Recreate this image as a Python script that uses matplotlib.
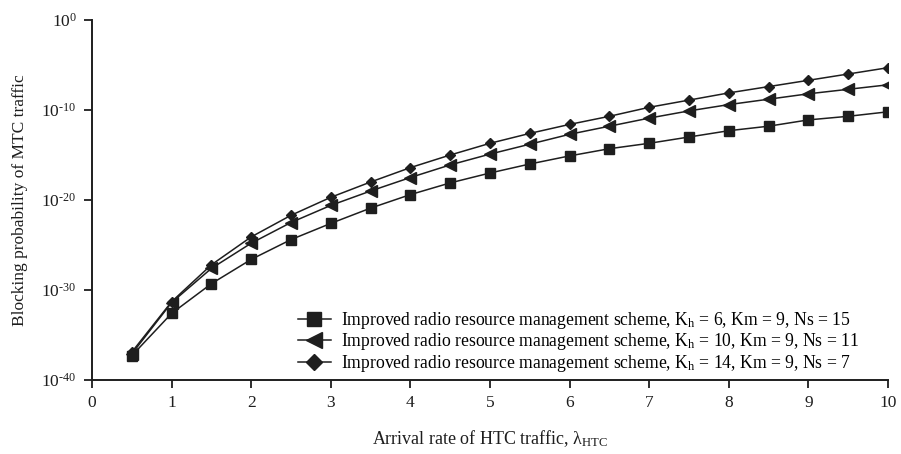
import numpy as np
import matplotlib
matplotlib.use('Agg')
import matplotlib.pyplot as plt
from matplotlib.ticker import FixedLocator, FuncFormatter

plt.rcParams['font.family'] = ['Liberation Serif', 'DejaVu Serif']
plt.rcParams['mathtext.fontset'] = 'custom'
plt.rcParams['mathtext.rm'] = 'Liberation Serif'
plt.rcParams['mathtext.it'] = 'Liberation Serif:italic'

# arrival rate of HTC traffic
lam = [0.5, 1, 1.5, 2, 2.5, 3, 3.5, 4, 4.5, 5, 5.5, 6, 6.5, 7, 7.5, 8, 8.5, 9, 9.5, 10]

# blocking probability as log10 values
exp_kh6 = [-37.3, -32.6, -29.3, -26.6, -24.4, -22.6, -20.9, -19.4, -18.1, -17.0,
           -16.0, -15.1, -14.3, -13.7, -13.0, -12.3, -11.8, -11.1, -10.7, -10.2]
exp_kh10 = [-37.1, -31.4, -27.6, -24.8, -22.5, -20.6, -19.0, -17.5, -16.1, -14.9,
            -13.8, -12.7, -11.8, -10.9, -10.1, -9.4, -8.8, -8.2, -7.7, -7.2]
exp_kh14 = [-36.9, -31.3, -27.2, -24.1, -21.7, -19.7, -18.0, -16.4, -15.0, -13.7,
            -12.6, -11.6, -10.7, -9.7, -8.9, -8.1, -7.4, -6.7, -6.0, -5.3]

labels = [
    'Improved radio resource management scheme, K$_\\mathregular{h}$ = 6, Km = 9, Ns = 15',
    'Improved radio resource management scheme, K$_\\mathregular{h}$ = 10, Km = 9, Ns = 11',
    'Improved radio resource management scheme, K$_\\mathregular{h}$ = 14, Km = 9, Ns = 7',
]
y_exps = [-40, -30, -20, -10, 0]
x_ticks = [0, 1, 2, 3, 4, 5, 6, 7, 8, 9, 10]

ink = '#1e1e1e'

fig = plt.figure(figsize=(9.01, 4.54), dpi=100)
ax = fig.add_axes([92 / 901, 1 - 380 / 454, (888 - 92) / 901, 360 / 454])

ax.plot(lam, np.power(10.0, exp_kh6), color=ink, lw=1.1, marker='s', ms=7, label=labels[0])
ax.plot(lam, np.power(10.0, exp_kh10), color=ink, lw=1.1, marker='<', ms=8, label=labels[1])
ax.plot(lam, np.power(10.0, exp_kh14), color=ink, lw=1.1, marker='D', ms=5.5, label=labels[2])

ax.set_yscale('log')
ax.set_ylim(1e-40, 1)
ax.set_xlim(0, 10)
ax.yaxis.set_major_locator(FixedLocator([10.0 ** e for e in y_exps]))
ax.yaxis.set_minor_locator(FixedLocator([]))
ax.yaxis.set_major_formatter(FuncFormatter(
    lambda v, p: '10$^{\\mathregular{%s}}$' % str(int(round(np.log10(v)))).replace('-', '\u2010')))
ax.set_xticks(x_ticks)

for side in ['top', 'right']:
    ax.spines[side].set_visible(False)
for side in ['left', 'bottom']:
    ax.spines[side].set_linewidth(1.4)
    ax.spines[side].set_color(ink)
ax.tick_params(direction='out', length=6, width=1.3, colors=ink, labelsize=12.5, pad=5)

ax.set_xlabel('Arrival rate of HTC traffic, \u03bb$_\\mathregular{HTC}$', fontsize=13, labelpad=12, color=ink)
ax.set_ylabel('Blocking probability of MTC traffic', fontsize=12.5, labelpad=10, color=ink)

ax.legend(loc='lower right', bbox_to_anchor=(0.977, -0.012), frameon=False, fontsize=12.7,
          handlelength=1.9, handletextpad=0.55, labelspacing=0.03, markerscale=1.4,
          borderaxespad=0.2)

fig.savefig('out.png', dpi=100)
